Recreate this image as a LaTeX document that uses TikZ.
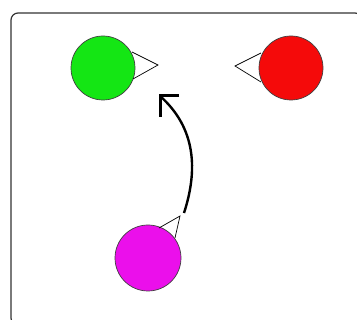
\documentclass[tikz,border=0pt]{standalone}
\definecolor{ballgreen}{RGB}{20,230,20}
\definecolor{ballred}{RGB}{245,10,10}
\definecolor{ballmag}{RGB}{235,15,235}
\tikzset{
  ball/.style={circle, minimum size=64pt, inner sep=0pt, draw=black!75, line width=0.7pt},
  beak/.style={draw=black, line width=0.7pt, line join=miter},
  move/.style={line width=2.4pt},
  barb/.style={line width=3pt, line join=miter},
}
\begin{document}
\begin{tikzpicture}[x=1pt,y=-1pt]
\useasboundingbox (0,0) rectangle (357,320);
\draw[black!80, line width=1.2pt, rounded corners=7pt] (11,13) rectangle (362,325);
\node[ball, fill=ballgreen] (g) at (103,68) {};
\node[ball, fill=ballred] (r) at (291,68) {};
\node[ball, fill=ballmag, minimum size=66pt] (m) at (148,258) {};
\draw[beak] (132,52) -- (158,65) -- (133,79);
\draw[beak] (261,53) -- (235,66) -- (261,82);
\draw[beak] (159,228) -- (180,216) -- (175,238);
\coordinate (s) at (184,213);
\coordinate (e) at (160,96);
\draw[move] (s) .. controls (198,170) and (196,128) .. (e);
\draw[barb] ([xshift=19pt]e) -- (e) -- ([yshift=-21pt]e);
\end{tikzpicture}
\end{document}
